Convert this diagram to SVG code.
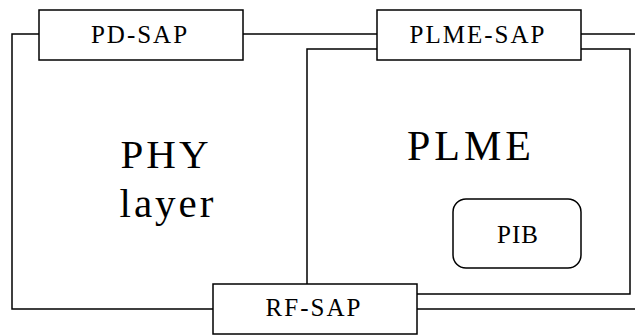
<svg xmlns="http://www.w3.org/2000/svg" width="635" height="335" viewBox="0 0 635 335">
  <style>
    .ln { fill: none; stroke: #000; stroke-width: 1.5; }
    .box { fill: #fff; stroke: #000; stroke-width: 1.5; }
    .sap { font-family: "Liberation Serif", "Times New Roman", serif; font-size: 25px; letter-spacing: 2px; fill: #000; text-anchor: middle; }
    .big { font-family: "Liberation Serif", "Times New Roman", serif; font-size: 42px; letter-spacing: 4px; fill: #000; text-anchor: middle; }
    .phy { font-size: 41px; letter-spacing: 3px; }
  </style>
  <rect width="635" height="335" fill="#fff"/>

  <g id="connectors">
    <!-- PHY layer outline -->
    <polyline class="ln" points="39,34 12,34 12,309 213,309"/>
    <line class="ln" x1="243" y1="34" x2="377" y2="34"/>
    <line class="ln" x1="581" y1="34" x2="635" y2="34"/>
    <line class="ln" x1="417" y1="309" x2="635" y2="309"/>
    <!-- PLME outline -->
    <polyline class="ln" points="307,284 307,49 377,49"/>
    <polyline class="ln" points="581,49 630,49 630,294 417,294"/>
  </g>

  <g id="phy">
    <text class="big phy" x="166" y="168">PHY</text>
    <text class="big phy" x="168" y="217">layer</text>
  </g>

  <g id="plme">
    <text class="big" x="471" y="160">PLME</text>
  </g>

  <g id="pd-sap">
    <rect class="box" x="39" y="10" width="204" height="50"/>
    <text class="sap" x="140" y="43">PD-SAP</text>
  </g>

  <g id="plme-sap">
    <rect class="box" x="377" y="10" width="204" height="50"/>
    <text class="sap" x="478" y="43">PLME-SAP</text>
  </g>

  <g id="rf-sap">
    <rect class="box" x="213" y="284" width="204" height="50"/>
    <text class="sap" x="314" y="316">RF-SAP</text>
  </g>

  <g id="pib">
    <rect class="box" x="453" y="199" width="128" height="69" rx="13" ry="13"/>
    <text class="sap" x="518" y="243" style="letter-spacing:1px">PIB</text>
  </g>
</svg>
